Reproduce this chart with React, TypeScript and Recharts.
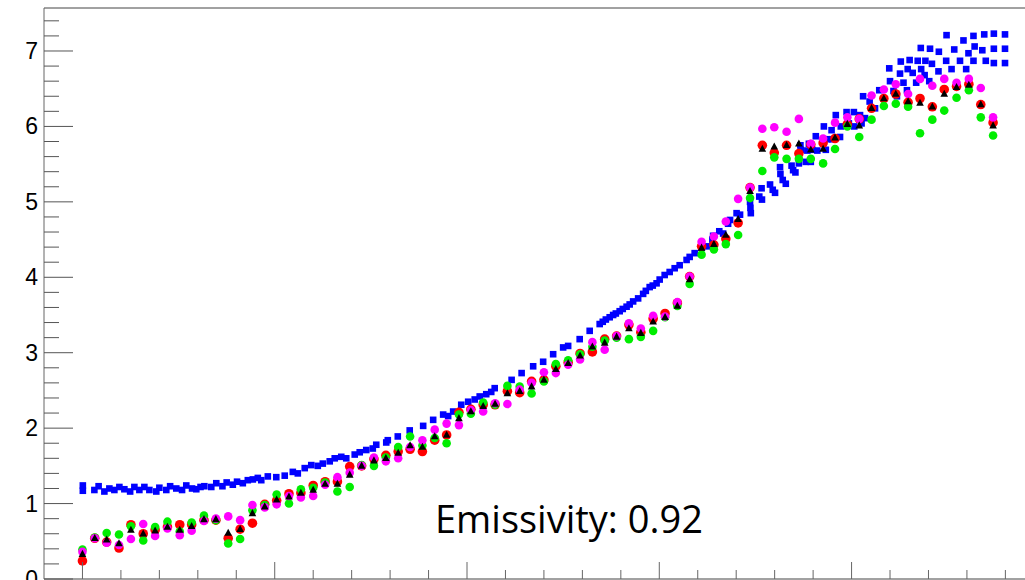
import { ScatterChart, Scatter, XAxis, YAxis, ReferenceLine } from "recharts";

// shared sample positions of the four lower series
const sampleX = [
  50.0, 53.2, 56.3, 59.5, 62.6, 65.8, 68.9, 72.1, 75.3, 78.4, 81.6, 84.7, 87.9, 91.0, 94.2, 97.4,
  100.5, 103.7, 106.8, 110.0, 113.1, 116.3, 119.5, 122.6, 125.8, 128.9, 132.1, 135.2, 138.4, 141.6,
  144.7, 147.9, 151.0, 154.2, 157.3, 160.5, 163.7, 166.8, 170.0, 173.1, 176.3, 179.4, 182.6, 185.8,
  188.9, 192.1, 195.2, 198.4, 201.5, 204.7, 207.9, 211.0, 214.2, 217.3, 220.5, 223.6, 226.8, 229.9,
  233.1, 236.3, 239.4, 242.6, 245.7, 248.9, 252.0, 255.2, 258.4, 261.5, 264.7, 267.8, 271.0, 274.1,
  277.3, 280.5, 283.6, 286.8,
];

const redY = [
  0.24, 0.54, 0.49, 0.41, 0.72, 0.6, 0.65, 0.69, 0.72, 0.72, 0.78, 0.78, 0.54, 0.66, 0.74, 0.99,
  1.04, 1.13, 1.14, 1.24, 1.29, 1.29, 1.49, 1.5, 1.59, 1.64, 1.69, 1.72, 1.69, 1.84, 1.91, 2.21,
  2.25, 2.31, 2.31, 2.49, 2.47, 2.62, 2.64, 2.82, 2.87, 2.99, 3.01, 3.18, 3.22, 3.37, 3.27, 3.45,
  3.52, 3.66, 4.01, 4.41, 4.43, 4.51, 4.72, 5.19, 5.75, 5.65, 5.75, 5.64, 5.76, 5.78, 5.84, 6.03,
  6.1, 6.24, 6.37, 6.43, 6.32, 6.37, 6.26, 6.49, 6.53, 6.56, 6.29, 6.05,
];

const blackY = [
  0.33, 0.54, 0.52, 0.47, 0.65, 0.6, 0.64, 0.69, 0.65, 0.7, 0.79, 0.79, 0.61, 0.66, 0.87, 0.96,
  1.05, 1.09, 1.14, 1.18, 1.26, 1.26, 1.38, 1.5, 1.57, 1.6, 1.67, 1.77, 1.75, 1.89, 1.91, 2.13,
  2.22, 2.29, 2.32, 2.46, 2.49, 2.55, 2.64, 2.78, 2.86, 2.96, 3.08, 3.13, 3.21, 3.32, 3.26, 3.41,
  3.47, 3.62, 3.97, 4.39, 4.44, 4.56, 4.77, 5.14, 5.7, 5.73, 5.75, 5.77, 5.69, 5.7, 5.85, 6.03,
  6.01, 6.24, 6.37, 6.43, 6.33, 6.31, 6.26, 6.43, 6.52, 6.55, 6.29, 6.01,
];

const greenY = [
  0.39, 0.55, 0.61, 0.59, 0.7, 0.51, 0.69, 0.76, 0.63, 0.75, 0.84, 0.78, 0.47, 0.53, 0.91, 0.98,
  1.12, 1.0, 1.19, 1.21, 1.28, 1.16, 1.22, 1.51, 1.5, 1.61, 1.75, 1.89, 1.77, 1.87, 1.8, 2.18,
  2.19, 2.34, 2.31, 2.56, 2.55, 2.46, 2.62, 2.85, 2.9, 2.98, 3.08, 3.16, 3.2, 3.18, 3.21, 3.29,
  3.47, 3.62, 3.91, 4.3, 4.37, 4.44, 4.56, 5.05, 5.41, 5.59, 5.57, 5.57, 5.57, 5.51, 5.7, 6.0,
  5.86, 6.09, 6.27, 6.3, 6.26, 5.91, 6.09, 6.21, 6.38, 6.48, 6.12, 5.88,
];

const magentaY = [
  0.36, 0.54, 0.48, 0.45, 0.53, 0.73, 0.57, 0.67, 0.58, 0.64, 0.77, 0.8, 0.83, 0.78, 0.98, 0.95,
  0.99, 1.1, 1.08, 1.1, 1.25, 1.35, 1.41, 1.5, 1.61, 1.56, 1.6, 1.75, 1.84, 1.98, 2.06, 2.04,
  2.24, 2.22, 2.33, 2.32, 2.51, 2.6, 2.74, 2.73, 2.84, 2.91, 3.14, 3.04, 3.22, 3.39, 3.32, 3.49,
  3.48, 3.67, 4.01, 4.47, 4.54, 4.74, 5.04, 5.19, 5.97, 5.99, 5.93, 6.1, 5.77, 5.84, 6.05, 6.12,
  6.1, 6.41, 6.49, 6.56, 6.43, 6.63, 6.54, 6.63, 6.58, 6.63, 6.51, 6.12,
];

const blueX = [
  50.1, 50.1, 53.1, 54.2, 55.7, 57.0, 58.3, 59.6, 60.9, 62.4, 63.5, 64.8, 66.1, 67.4, 69.2, 70.0,
  71.8, 72.8, 74.4, 75.9, 77.0, 78.5, 79.6, 80.7, 81.7, 83.5, 84.8, 86.4, 87.5, 89.1, 90.2, 91.7,
  93.0, 94.3, 95.6,
  96.5, 98.2, 100.4, 102.6, 104.7, 106.0, 107.8, 109.5, 111.2, 112.5, 114.3, 115.6, 117.3, 118.6,
  120.8, 122.1, 123.8, 125.5, 126.4, 129.0, 129.4, 132.0, 135.1, 138.6, 141.2, 143.8, 145.1, 146.4,
  148.5, 150.3, 152.0,
  153.3, 155.0, 156.3, 157.2, 161.6, 164.2, 167.2, 169.8, 172.4, 175.0, 176.3, 179.3, 181.9, 184.5,
  185.3, 186.1, 187.1, 188.0, 188.7, 189.7, 190.5, 191.5, 192.3, 193.2, 194.5, 195.8, 196.5, 197.5,
  198.3, 199.3, 200.1, 201.4, 202.7, 204.0, 205.3, 207.1, 207.9, 209.2, 211.0,
  212.4, 213.8, 214.0, 215.6, 216.6, 217.9, 218.4, 220.1, 221.0, 223.6, 223.7, 223.8, 226.0, 226.6,
  226.7, 228.8, 229.5, 230.1, 231.4, 231.5, 232.1, 232.9, 234.4, 234.8, 235.4, 236.3, 236.7, 236.8,
  238.1, 238.5, 238.9, 239.4, 239.8, 240.7, 241.1, 242.8, 243.3, 243.7, 244.8, 245.0, 245.9, 247.0,
  247.2, 248.7, 249.3,
  250.6, 250.7, 252.2, 252.6, 253.0, 253.5, 254.7, 256.1, 257.2, 259.8, 260.0, 260.9, 261.8, 262.6,
  262.8, 263.5, 264.4, 264.6, 265.1, 265.9, 266.8, 267.2, 268.0, 268.1, 269.0, 269.2, 270.2, 270.4,
  270.9, 272.6, 272.7, 274.6, 274.7, 276.0, 276.7, 278.2, 279.1, 279.8, 280.4, 281.7, 281.7, 282.0,
  284.0, 284.5, 284.9, 287.0, 287.0, 287.0, 289.9, 289.9, 289.9,
];

const blueY = [
  1.24, 1.17, 1.18, 1.23, 1.16, 1.2, 1.18, 1.22, 1.19, 1.16, 1.22, 1.18, 1.22, 1.18, 1.16, 1.21,
  1.18, 1.23, 1.2, 1.18, 1.24, 1.2, 1.19, 1.22, 1.23, 1.22, 1.27, 1.23, 1.28, 1.25, 1.29, 1.27,
  1.31, 1.32, 1.34,
  1.31, 1.36, 1.35, 1.37, 1.42, 1.4, 1.47, 1.51, 1.5, 1.53, 1.56, 1.6, 1.62, 1.6, 1.65, 1.68, 1.71,
  1.73, 1.78, 1.81, 1.84, 1.89, 1.97, 2.03, 2.11, 2.18, 2.16, 2.22, 2.31, 2.35, 2.38,
  2.42, 2.45, 2.48, 2.53, 2.64, 2.73, 2.82, 2.88, 2.98, 3.07, 3.09, 3.18, 3.29, 3.38, 3.41, 3.44,
  3.47, 3.5, 3.52, 3.55, 3.58, 3.61, 3.64, 3.68, 3.72, 3.78, 3.82, 3.87, 3.89, 3.92, 3.97, 4.03,
  4.07, 4.12, 4.16, 4.23, 4.27, 4.32, 4.39,
  4.41, 4.5, 4.55, 4.61, 4.58, 4.71, 4.76, 4.85, 4.83, 5.0, 4.92, 4.85, 5.07, 5.18, 5.03, 5.23,
  5.16, 5.12, 5.46, 5.37, 5.29, 5.24, 5.48, 5.42, 5.39, 5.51, 5.75, 5.69, 5.53, 5.68, 5.77, 5.53,
  5.69, 5.87, 5.68, 6.0, 5.69, 5.83, 5.95, 5.83, 6.15, 5.86, 6.0, 6.19, 6.04,
  6.19, 6.0, 6.15, 6.04, 6.4, 6.11, 6.33, 6.24, 6.48, 6.77, 6.6, 6.47, 6.4, 6.7, 6.86, 6.58, 6.48,
  6.76, 6.88, 6.71, 6.58, 6.87, 7.04, 6.76, 6.68, 6.87, 6.6, 7.03, 6.83, 6.73, 6.99, 6.87, 7.21,
  6.76, 7.02, 6.87, 7.14, 6.76, 6.97, 7.2, 6.87, 7.06, 7.01, 7.22, 6.87, 7.23, 7.03, 6.84, 7.22,
  7.03, 6.84,
];

const xTicks = [
  50, 60, 70, 80, 90, 100, 110, 120, 130, 140, 150, 160, 170, 180, 190, 200, 210, 220, 230, 240,
  250, 260, 270, 280, 290,
];
const yTicks = [
  0, 0.2, 0.4, 0.6, 0.8, 1, 1.2, 1.4, 1.6, 1.8, 2, 2.2, 2.4, 2.6, 2.8, 3, 3.2, 3.4, 3.6, 3.8, 4,
  4.2, 4.4, 4.6, 4.8, 5, 5.2, 5.4, 5.6, 5.8, 6, 6.2, 6.4, 6.6, 6.8, 7, 7.2, 7.4,
];
const xDomain = [40, 295.1];
const yDomain = [0, 7.57];
const note = "Emissivity: 0.92";

const pts = (xs: number[], ys: number[]) => ys.map((y, i) => ({ x: xs[i], y }));

const square = (fill: string) => (p: any) => (
  <rect x={p.cx - 3.3} y={p.cy - 3.3} width={6.6} height={6.6} fill={fill} />
);
const dot = (fill: string, r: number) => (p: any) => (
  <circle cx={p.cx} cy={p.cy} r={r} fill={fill} />
);
const triangle = (p: any) => (
  <polygon
    points={`${p.cx},${p.cy - 4.3} ${p.cx - 3.8},${p.cy + 2.8} ${p.cx + 3.8},${p.cy + 2.8}`}
    fill="#000"
  />
);

function XTick({ x, y, payload }: any) {
  const major = payload.value % 50 === 0;
  return <line x1={x} y1={y} x2={x} y2={y - (major ? 17 : 9)} stroke="#666" />;
}

function YTick({ x, y, payload }: any) {
  const major = Number.isInteger(payload.value);
  return (
    <g>
      <line x1={x} y1={y} x2={x + (major ? 29 : 15)} y2={y} stroke="#555" />
      {major && (
        <text
          x={x - 6}
          y={y + 8}
          textAnchor="end"
          fontSize={23}
          fontFamily="'Liberation Sans', Arial, sans-serif"
          fill="#000"
        >
          {payload.value}
        </text>
      )}
    </g>
  );
}

export default function App() {
  return (
    <div style={{ position: "relative", width: 1025, height: 580, overflow: "hidden" }}>
      <style>{"body{margin:0}"}</style>
      <ScatterChart width={1025} height={580} margin={{ top: 8, right: 0, bottom: 0, left: 0 }}>
        <XAxis
          type="number"
          dataKey="x"
          domain={xDomain}
          ticks={xTicks}
          interval={0}
          height={1}
          tickSize={0}
          tickMargin={0}
          tickLine={false}
          tick={<XTick />}
          axisLine={{ stroke: "#444" }}
        />
        <YAxis
          type="number"
          dataKey="y"
          domain={yDomain}
          ticks={yTicks}
          interval={0}
          width={44}
          tickSize={0}
          tickMargin={0}
          tickLine={false}
          tick={<YTick />}
          axisLine={{ stroke: "#666" }}
        />
        <ReferenceLine y={yDomain[1]} stroke="#444" />
        <Scatter data={pts(blueX, blueY)} shape={square("#0000ff")} isAnimationActive={false} />
        <Scatter data={pts(sampleX, redY)} shape={dot("#ff0000", 4.8)} isAnimationActive={false} />
        <Scatter data={pts(sampleX, greenY)} shape={dot("#00ee00", 4.3)} isAnimationActive={false} />
        <Scatter data={pts(sampleX, magentaY)} shape={dot("#ff00ff", 4.3)} isAnimationActive={false} />
        <Scatter data={pts(sampleX, blackY)} shape={triangle} isAnimationActive={false} />
      </ScatterChart>
      <svg
        width={1025}
        height={580}
        style={{ position: "absolute", left: 0, top: 0, pointerEvents: "none" }}
      >
        <text x={435} y={533} fontSize={38} fontFamily="'Open Sans', sans-serif" fill="#000">
          {note}
        </text>
      </svg>
    </div>
  );
}
